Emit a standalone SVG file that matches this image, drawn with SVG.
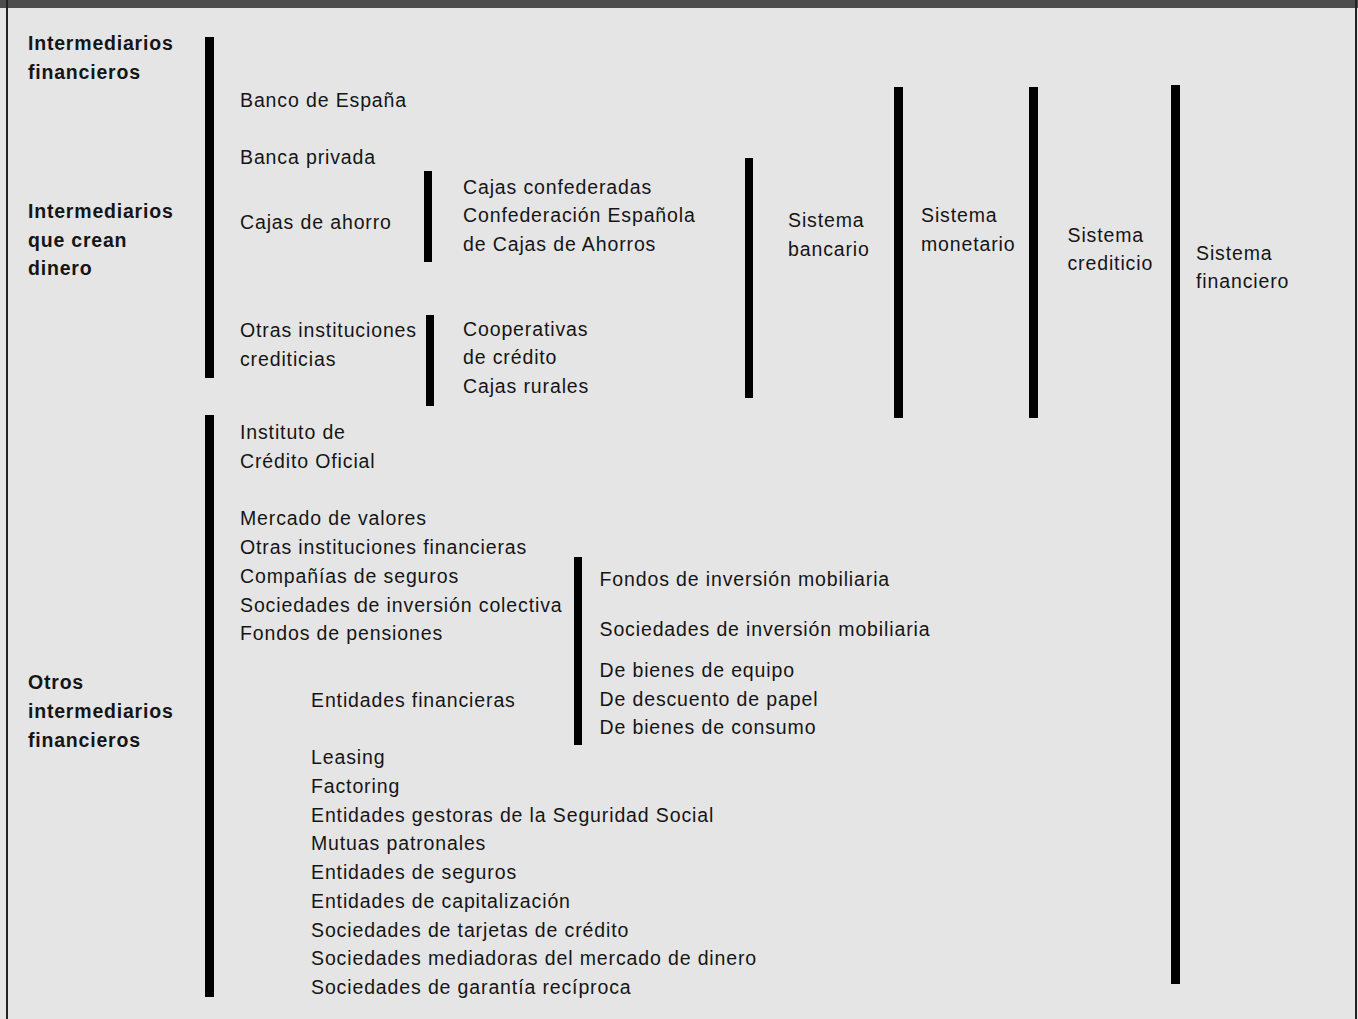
<svg xmlns="http://www.w3.org/2000/svg" width="1358" height="1019" viewBox="0 0 1358 1019">
<style>
text{font-family:"Liberation Sans",Arial,sans-serif;font-size:19.5px;letter-spacing:0.87px;fill:#151515}
.b{font-weight:bold;letter-spacing:0.8px}
.bar{fill:#000}
</style>
<rect x="0" y="0" width="1358" height="1019" fill="#e5e5e5"/>
<rect x="0" y="0" width="1358" height="8" fill="#4d4d4d"/>
<rect x="6" y="0" width="2" height="1019" fill="#222"/>
<rect x="1355" y="0" width="2" height="1019" fill="#222"/>
<g id="connectors">
<rect class="bar" x="205" y="37" width="9" height="341"/>
<rect class="bar" x="205" y="415" width="9" height="582"/>
<rect class="bar" x="424" y="171" width="8" height="91"/>
<rect class="bar" x="426" y="315" width="8" height="91"/>
<rect class="bar" x="745" y="158" width="8" height="240"/>
<rect class="bar" x="894" y="87" width="9" height="331"/>
<rect class="bar" x="1029" y="87" width="9" height="331"/>
<rect class="bar" x="1171" y="85" width="9" height="899"/>
<rect class="bar" x="574" y="557" width="8" height="188"/>
</g>
<g id="label-if"><text class="b" x="28" y="50">Intermediarios</text><text class="b" x="28" y="78.7">financieros</text></g>
<g id="label-icd"><text class="b" x="28" y="217.7">Intermediarios</text><text class="b" x="28" y="246.7">que crean</text><text class="b" x="28" y="275">dinero</text></g>
<g id="label-oif"><text class="b" x="28" y="689">Otros</text><text class="b" x="28" y="718">intermediarios</text><text class="b" x="28" y="746.5">financieros</text></g>
<g id="banco-espana"><text x="240" y="107.3">Banco de España</text></g>
<g id="banca-privada"><text x="240" y="164.3">Banca privada</text></g>
<g id="cajas-ahorro"><text x="240" y="229">Cajas de ahorro</text></g>
<g id="otras-crediticias"><text x="240" y="337.3">Otras instituciones</text><text x="240" y="365.5">crediticias</text></g>
<g id="cajas-conf"><text x="463" y="194">Cajas confederadas</text><text x="463" y="222.3">Confederación Española</text><text x="463" y="250.5">de Cajas de Ahorros</text></g>
<g id="cooperativas"><text x="463" y="336">Cooperativas</text><text x="463" y="364.3">de crédito</text><text x="463" y="392.7">Cajas rurales</text></g>
<g id="sis-bancario"><text x="788" y="227">Sistema</text><text x="788" y="256">bancario</text></g>
<g id="sis-monetario"><text x="921" y="221.7">Sistema</text><text x="921" y="250.7">monetario</text></g>
<g id="sis-crediticio"><text x="1067.5" y="241.7">Sistema</text><text x="1067.5" y="270">crediticio</text></g>
<g id="sis-financiero"><text x="1196" y="260">Sistema</text><text x="1196" y="287.7">financiero</text></g>
<g id="ico"><text x="240" y="439.3">Instituto de</text><text x="240" y="468">Crédito Oficial</text></g>
<g id="otros-list">
<text x="240" y="525.3">Mercado de valores</text>
<text x="240" y="554">Otras instituciones financieras</text>
<text x="240" y="583">Compañías de seguros</text>
<text x="240" y="611.7">Sociedades de inversión colectiva</text>
<text x="240" y="640.3">Fondos de pensiones</text>
</g>
<g id="entidades-financieras"><text x="311" y="707">Entidades financieras</text></g>
<g id="sub-list">
<text x="599.5" y="586">Fondos de inversión mobiliaria</text>
<text x="599.5" y="636">Sociedades de inversión mobiliaria</text>
<text x="599.5" y="677.3">De bienes de equipo</text>
<text x="599.5" y="705.7">De descuento de papel</text>
<text x="599.5" y="734">De bienes de consumo</text>
</g>
<g id="lower-list">
<text x="311" y="764">Leasing</text>
<text x="311" y="793">Factoring</text>
<text x="311" y="821.5">Entidades gestoras de la Seguridad Social</text>
<text x="311" y="850.3">Mutuas patronales</text>
<text x="311" y="879">Entidades de seguros</text>
<text x="311" y="907.5">Entidades de capitalización</text>
<text x="311" y="936.5">Sociedades de tarjetas de crédito</text>
<text x="311" y="965">Sociedades mediadoras del mercado de dinero</text>
<text x="311" y="993.5">Sociedades de garantía recíproca</text>
</g>
</svg>
